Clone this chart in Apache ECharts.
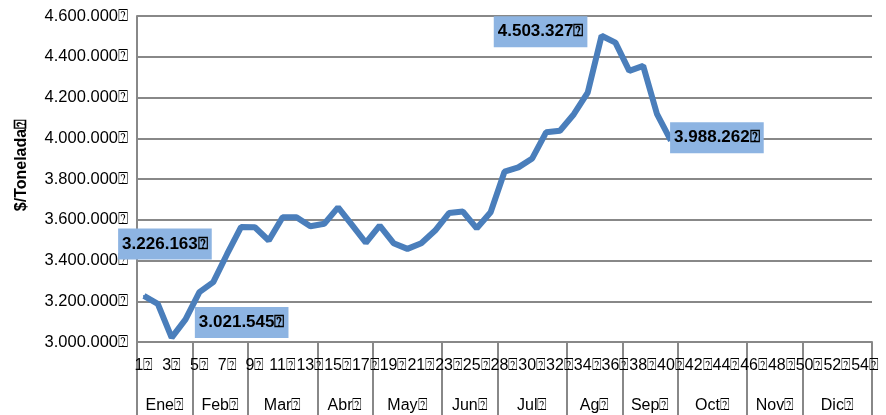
<!DOCTYPE html>
<html>
<head>
<meta charset="utf-8">
<script src="https://cdn.jsdelivr.net/npm/echarts@6/dist/echarts.min.js"></script>
<style>
  html, body { margin: 0; background: #fff; }
  #chart { width: 886px; height: 415px; }
</style>
</head>
<body>
<div id="chart"></div>
<script>
// semanas (no hay semana 27 en la serie)
const weeks = ['1', '2', '3', '4', '5', '6', '7', '8', '9', '10', '11', '12', '13',
  '14', '15', '16', '17', '18', '19', '20', '21', '22', '23', '24', '25', '26',
  '28', '29', '30', '31', '32', '33', '34', '35', '36', '37', '38', '39', '40',
  '41', '42', '43', '44', '45', '46', '47', '48', '49', '50', '51', '52', '53', '54']
const months = ['Ene', 'Feb', 'Mar', 'Abr', 'May', 'Jun', 'Jul', 'Ag', 'Sep', 'Oct', 'Nov', 'Dic']
const weeksPerMonth = [4, 4, 5, 4, 5, 4, 5, 4, 4, 5, 4, 5]

// $ por tonelada, semana 1 a 40
const prices = [
  3226163, 3187000, 3021545, 3111000, 3245000, 3294000, 3432000, 3564000,
  3563000, 3498000, 3612000, 3612000, 3568000, 3580000, 3661000, 3575000,
  3487000, 3571000, 3485000, 3457000, 3485000, 3547000, 3633000, 3640000,
  3558000, 3637000, 3836000, 3857000, 3901000, 4029000, 4037000, 4118000,
  4224000, 4503327, 4469000, 4331000, 4355000, 4118000, 3988262
]
const labeledWeeks = ['1', '3', '35', '40']

const TOFU = '\u2370'
const GRID_GRAY = '#888888'
const FONT = "'Liberation Sans', Arial, sans-serif"

function miles(v) {
  return String(Math.round(v)).replace(/\B(?=(\d{3})+(?!\d))/g, '.')
}

// limites y centros de cada mes sobre el eje de semanas
const bounds = [0]
const centers = []
weeksPerMonth.forEach(n => {
  const start = bounds[bounds.length - 1]
  centers.push(start + n / 2)
  bounds.push(start + n)
})

// posicion de cada etiqueta respecto a su punto
const labelOffset = {
  '1': [22, -51],
  '3': [71, -14],
  '35': [-60, -3],
  '40': [47, -2]
}

const seriesData = prices.map((v, i) => {
  const wk = weeks[i]
  if (labeledWeeks.indexOf(wk) < 0) return v
  return {
    value: v,
    label: {
      show: true,
      position: labelOffset[wk],
      align: 'center',
      verticalAlign: 'middle'
    }
  }
})

const myChart = echarts.init(document.getElementById('chart'))
const option = {
  animation: false,
  textStyle: { fontFamily: FONT },
  grid: { left: 137, right: 14, top: 16, bottom: 73 },
  xAxis: [
    {
      type: 'category',
      data: weeks,
      position: 'bottom',
      axisLine: { lineStyle: { color: GRID_GRAY, width: 2 } },
      axisTick: { show: false },
      axisLabel: {
        interval: 1,
        margin: 16,
        fontSize: 16,
        color: '#000',
        formatter: v => v + TOFU
      }
    },
    {
      type: 'value',
      min: 0,
      max: weeks.length,
      position: 'bottom',
      axisLine: { show: false },
      splitLine: { show: false },
      axisTick: {
        show: true,
        customValues: bounds,
        length: 73,
        lineStyle: { color: GRID_GRAY, width: 2 }
      },
      axisLabel: {
        customValues: centers,
        margin: 56,
        fontSize: 16,
        color: '#000',
        formatter: v => months[centers.indexOf(v)] + TOFU
      }
    }
  ],
  yAxis: {
    type: 'value',
    min: 3000000,
    max: 4600000,
    interval: 200000,
    name: '$/Tonelada' + TOFU,
    nameLocation: 'middle',
    nameGap: 107,
    nameTextStyle: { fontSize: 16, fontWeight: 'bold', color: '#000', padding: [0, 0, 0, 28] },
    axisLine: { show: true, lineStyle: { color: GRID_GRAY, width: 2 } },
    axisTick: { show: false },
    splitLine: { lineStyle: { color: GRID_GRAY, width: 2 } },
    axisLabel: {
      fontSize: 16.5,
      color: '#000',
      margin: 9,
      formatter: v => miles(v) + TOFU
    }
  },
  series: [
    {
      type: 'line',
      data: seriesData,
      symbol: 'circle',
      symbolSize: 2,
      showSymbol: true,
      itemStyle: { color: '#4a7ebb' },
      lineStyle: { color: '#4a7ebb', width: 6 },
      label: {
        show: false,
        fontSize: 17,
        fontWeight: 'bold',
        color: '#000',
        backgroundColor: '#8db4e2',
        padding: [7, 4, 7, 4],
        formatter: p => miles(p.value) + TOFU
      }
    }
  ]
}
myChart.setOption(option)
</script>
</body>
</html>
